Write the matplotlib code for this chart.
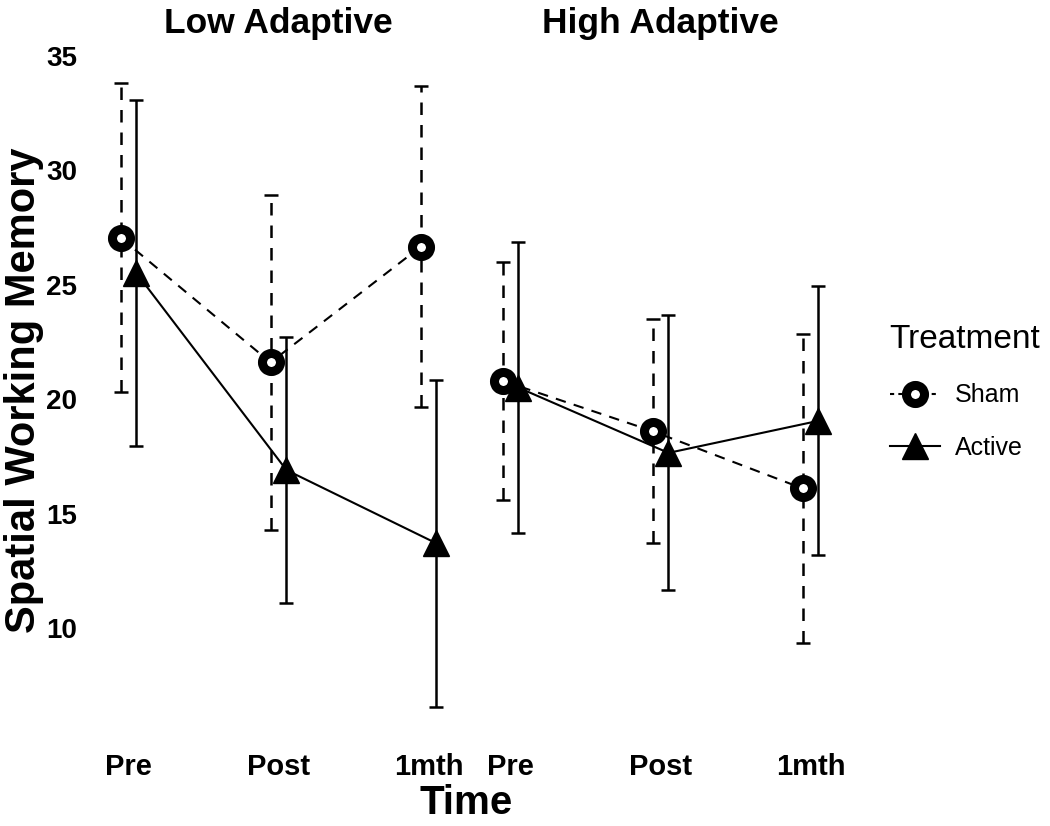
import numpy as np
import matplotlib
matplotlib.use('Agg')
from matplotlib import pyplot as plt
from matplotlib.lines import Line2D

plt.rcParams['font.family'] = ['Liberation Sans', 'DejaVu Sans']

# Data
times = ['Pre', 'Post', '1mth']
panels = ['Low Adaptive', 'High Adaptive']

low_sham = [27.05, 21.6, 26.65]
low_sham_err = [6.75, 7.3, 7.0]
low_active = [25.5, 16.9, 13.7]
low_active_err = [7.55, 5.8, 7.15]

high_sham = [20.8, 18.6, 16.1]
high_sham_err = [5.2, 4.9, 6.75]
high_active = [20.5, 17.65, 19.05]
high_active_err = [6.35, 6.0, 5.87]

y_ticks = [10, 15, 20, 25, 30, 35]

fig = plt.figure(figsize=(10.5, 8.26), dpi=100)
W, H = 1050, 826

# panel positions in pixels
ax_low = fig.add_axes([91 / W, (H - 738) / H, 375 / W, 687 / H])
ax_high = fig.add_axes([473 / W, (H - 738) / H, 375 / W, 687 / H])

dodge = 0.053
x = np.arange(len(times))

def draw_panel(ax, sham, sham_err, active, active_err, title):
    xa = x + dodge
    xs = x - dodge
    # active: solid
    ax.errorbar(xa, active, yerr=active_err, fmt='none', ecolor='black',
                elinewidth=1.8, capsize=5, capthick=1.8, zorder=1)
    ax.plot(xa, active, color='black', lw=1.5, zorder=2)
    # sham: dashed
    eb = ax.errorbar(xs, sham, yerr=sham_err, fmt='none', ecolor='black',
                     elinewidth=1.8, capsize=5, capthick=1.8, zorder=1)
    eb[2][0].set_linestyle((0, (5, 4)))
    ax.plot(xs, sham, color='black', lw=1.5, ls=(0, (5, 4)), zorder=2)
    ax.plot(xa, active, ls='none', marker='^', ms=19, color='black', zorder=3)
    ax.plot(xs, sham, ls='none', marker='o', ms=13, mfc='white', mec='black',
            mew=6.5, zorder=4)

    ax.set_xlim(-0.25, 2.25)
    ax.set_ylim(5.2, 35.2)
    ax.set_xticks(x)
    ax.set_xticklabels(times, fontsize=21, fontweight='bold')
    ax.set_yticks(y_ticks)
    ax.tick_params(length=0, pad=11)
    for s in ax.spines.values():
        s.set_visible(False)
    ax.set_title(title, fontsize=25.5, fontweight='bold', pad=13)

draw_panel(ax_low, low_sham, low_sham_err, low_active, low_active_err, panels[0])
draw_panel(ax_high, high_sham, high_sham_err, high_active, high_active_err, panels[1])

ax_low.set_yticklabels([str(t) for t in y_ticks], fontsize=20, fontweight='bold')
ax_low.tick_params(axis='y', pad=10)
ax_high.set_yticklabels([])

fig.text(466 / W, (H - 803) / H, 'Time', fontsize=29, fontweight='bold',
         ha='center', va='center')
fig.text(24 / W, (H - 390) / H, 'Spatial Working Memory', fontsize=30,
         fontweight='bold', rotation=90, ha='center', va='center')

handles = [
    Line2D([], [], color='black', lw=1.5, ls=(0, (2, 2)), marker='o', ms=13,
           mfc='white', mec='black', mew=6.5),
    Line2D([], [], color='black', lw=1.5, marker='^', ms=19),
]
leg = fig.legend(handles, ['Sham', 'Active'], title='Treatment',
                 loc='center left', bbox_to_anchor=(867 / W, (H - 392) / H),
                 frameon=False, fontsize=18, title_fontsize=24,
                 handlelength=2.0, labelspacing=1.15, handletextpad=0.6)
leg._legend_box.align = 'left'

fig.savefig('out.png', dpi=100)
